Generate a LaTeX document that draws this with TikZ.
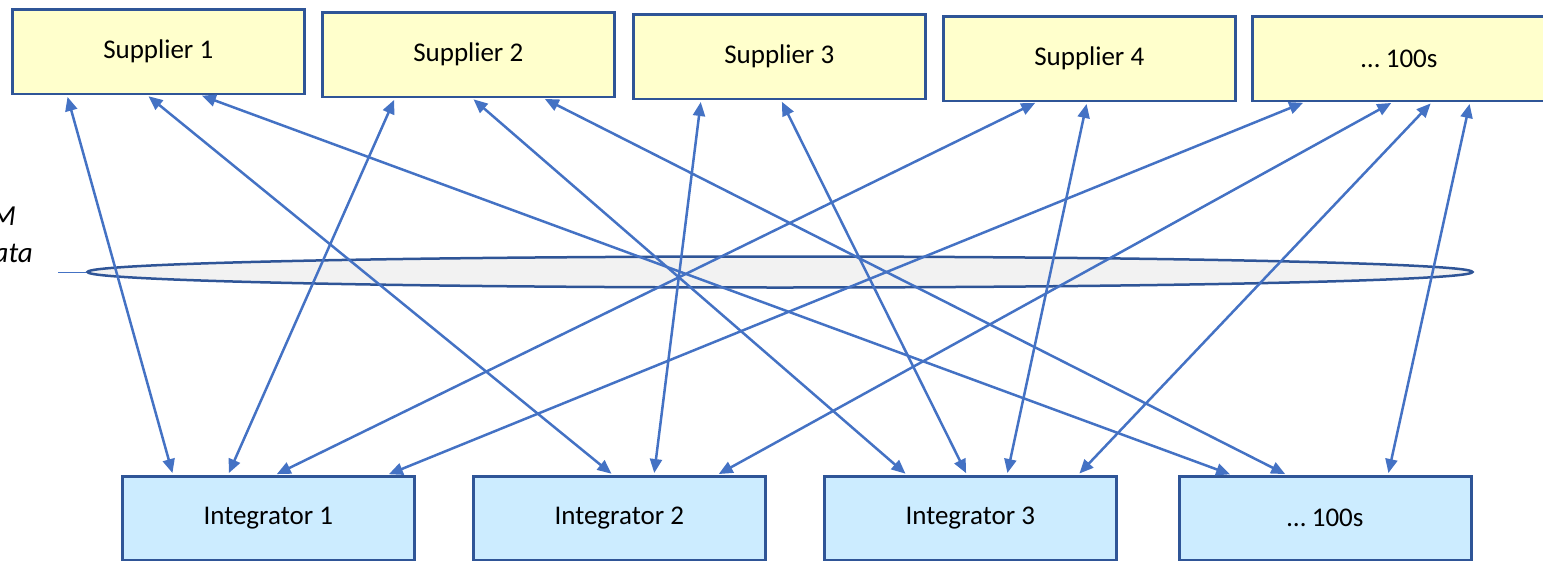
\documentclass[tikz,border=0pt]{standalone}
\usepackage{fontspec}
\setmainfont{Carlito}
\usetikzlibrary{arrows.meta,shapes.geometric}
\definecolor{supfill}{HTML}{FFFFCC}
\definecolor{intfill}{HTML}{CCECFF}
\definecolor{boxline}{HTML}{2F5597}
\definecolor{arrowc}{HTML}{4472C4}
\definecolor{busfill}{HTML}{F2F2F2}
\begin{document}
\begin{tikzpicture}[x=1pt,y=-1pt,
  box/.style={draw=boxline, line width=2.5pt, minimum width=292pt, minimum height=84.5pt,
    inner sep=0pt, anchor=north west, text=black, font=\fontsize{27}{31}\selectfont},
  sup/.style={box, fill=supfill},
  integ/.style={box, fill=intfill, minimum height=83.5pt},
  conn/.style={draw=arrowc, line width=2.5pt,
    {Triangle[length=14pt,width=12pt]}-{Triangle[length=14pt,width=12pt]},
    shorten <=2pt, shorten >=2pt},
  sidetext/.style={font=\fontsize{29}{34}\selectfont\itshape, anchor=base east, inner sep=0pt, text=black}]
\useasboundingbox (0,0) rectangle (1543,562);
\clip (0,0) rectangle (1543,562);

% bus ellipse
\node[ellipse, draw=boxline, fill=busfill, line width=2.5pt, minimum width=1385pt,
  minimum height=31pt, inner sep=0pt] (bus) at (780,272) {};
\coordinate (lead) at (58,272);
\draw[arrowc, line width=1pt] (lead) -- (bus.west);

\node[sidetext] (t1) at (16,225) {M};
\node[sidetext] (t2) at (33,262) {ata};

% suppliers
\node[sup] (s1) at (11,8) {Supplier 1};
\node[sup] (s2) at (321,11) {Supplier 2};
\node[sup] (s3) at (632,13) {Supplier 3};
\node[sup] (s4) at (942,15) {Supplier 4};
\node[sup, minimum width=340pt] (s5) at (1251,15) {\hspace*{-46pt}… 100s};

% integrators
\node[integ] (i1) at (121,475) {Integrator 1};
\node[integ] (i2) at (472,475) {Integrator 2};
\node[integ] (i3) at (823,475) {Integrator 3};
\node[integ] (i4) at (1178,475) {… 100s};

% connectors
\draw[conn] ([xshift=56pt]s1.south west) -- ([xshift=52pt]i1.north west);
\draw[conn] ([xshift=136pt]s1.south west) -- ([xshift=141pt]i2.north west);
\draw[conn] ([xshift=189pt]s1.south west) -- ([xshift=54pt]i4.north west);
\draw[conn] ([xshift=74pt]s2.south west) -- ([xshift=107pt]i1.north west);
\draw[conn] ([xshift=151pt]s2.south west) -- ([xshift=84pt]i3.north west);
\draw[conn] ([xshift=222pt]s2.south west) -- ([xshift=109pt]i4.north west);
\draw[conn] ([xshift=69pt]s3.south west) -- ([xshift=182pt]i2.north west);
\draw[conn] ([xshift=149pt]s3.south west) -- ([xshift=144pt]i3.north west);
\draw[conn] ([xshift=95pt]s4.south west) -- ([xshift=154pt]i1.north west);
\draw[conn] ([xshift=145pt]s4.south west) -- ([xshift=184pt]i3.north west);
\draw[conn] ([xshift=54pt]s5.south west) -- ([xshift=266pt]i1.north west);
\draw[conn] ([xshift=142pt]s5.south west) -- ([xshift=245pt]i2.north west);
\draw[conn] ([xshift=181pt]s5.south west) -- ([xshift=255pt]i3.north west);
\draw[conn] ([xshift=219pt]s5.south west) -- ([xshift=210pt]i4.north west);
\end{tikzpicture}
\end{document}
